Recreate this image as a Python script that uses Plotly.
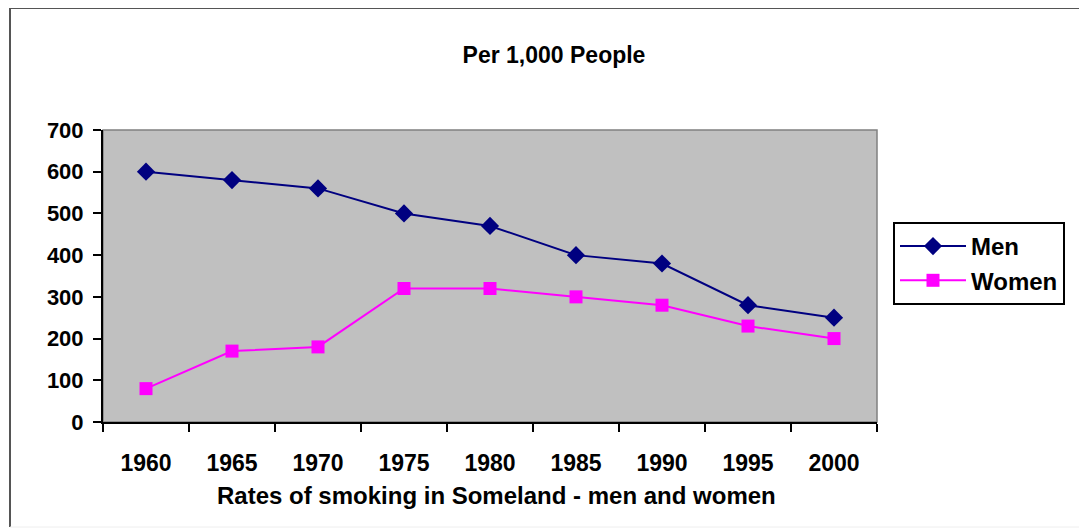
import plotly.graph_objects as go

years = ["1960", "1965", "1970", "1975", "1980", "1985", "1990", "1995", "2000"]
men = [600, 580, 560, 500, 470, 400, 380, 280, 250]
women = [80, 170, 180, 320, 320, 300, 280, 230, 200]
y_ticks = [0, 100, 200, 300, 400, 500, 600, 700]

FONT = "Liberation Sans, Arial, sans-serif"

fig = go.Figure()
fig.add_trace(go.Scatter(
    x=years, y=men, name="Men", mode="lines+markers",
    line=dict(color="#000080", width=2),
    marker=dict(symbol="diamond", size=14, color="#000080"),
))
fig.add_trace(go.Scatter(
    x=years, y=women, name="Women", mode="lines+markers",
    line=dict(color="#FF00FF", width=2),
    marker=dict(symbol="square", size=13, color="#FF00FF"),
))

# page pixel -> paper helpers (plot area 103..877 x, 130..422 y on the page)
def px(x):
    return (x - 103) / 774

def py(y):
    return (422 - y) / 292

OFF = 8  # page body margin
W, H = 1087 - OFF, 529 - OFF

shapes = [
    dict(type="rect", xref="paper", yref="paper", x0=0, x1=1, y0=0, y1=1,
         line=dict(color="#808080", width=1.5), layer="below"),
    dict(type="line", xref="paper", yref="paper", x0=px(10), x1=px(10), y0=py(8), y1=py(527),
         line=dict(color="#555555", width=2)),
    dict(type="line", xref="paper", yref="paper", x0=px(10), x1=px(1083), y0=py(8), y1=py(8),
         line=dict(color="#555555", width=2)),
    dict(type="line", xref="paper", yref="paper", x0=px(1083), x1=px(1083), y0=py(8), y1=py(527),
         line=dict(color="#e6e6e6", width=1)),
    dict(type="line", xref="paper", yref="paper", x0=px(10), x1=px(1083), y0=py(527), y1=py(527),
         line=dict(color="#eeeeee", width=1)),
]

fig.update_layout(
    width=W, height=H,
    margin=dict(l=103 - OFF, r=W - (877 - OFF), t=130 - OFF, b=H - (422 - OFF)),
    paper_bgcolor="white",
    plot_bgcolor="#C0C0C0",
    font=dict(family=FONT, color="black"),
    title=dict(text="<b>Per 1,000 People</b>", x=(554 - OFF) / W, xanchor="center",
               y=1 - (55 - OFF) / H, yanchor="middle",
               font=dict(family=FONT, size=23, color="black")),
    xaxis=dict(
        type="category", range=[-0.5, 8.5], tickson="boundaries",
        ticks="outside", ticklen=8, tickwidth=2, tickcolor="black",
        showline=True, linecolor="black", linewidth=2,
        showgrid=False, zeroline=False,
        tickfont=dict(family=FONT, size=23, color="black", weight="bold"),
        ticklabelstandoff=19,
    ),
    yaxis=dict(
        range=[0, 700], tickvals=y_ticks,
        ticks="outside", ticklen=8, tickwidth=2, tickcolor="black",
        showline=True, linecolor="black", linewidth=2,
        showgrid=False, zeroline=False,
        tickfont=dict(family=FONT, size=22, color="black", weight="bold"),
        ticklabelstandoff=5,
    ),
    legend=dict(
        x=px(893), y=py(222), xanchor="left", yanchor="top",
        bordercolor="black", borderwidth=2, bgcolor="white",
        font=dict(family=FONT, size=24, color="black", weight="bold"),
        tracegroupgap=0, itemwidth=66,
    ),
    showlegend=True,
    shapes=shapes,
    annotations=[
        dict(text="<b>Rates of smoking in Someland - men and women</b>",
             xref="paper", yref="paper", x=px(496), y=py(495),
             xanchor="center", yanchor="middle", showarrow=False,
             font=dict(family=FONT, size=24, color="black")),
    ],
)

fig.write_html("out.html")
